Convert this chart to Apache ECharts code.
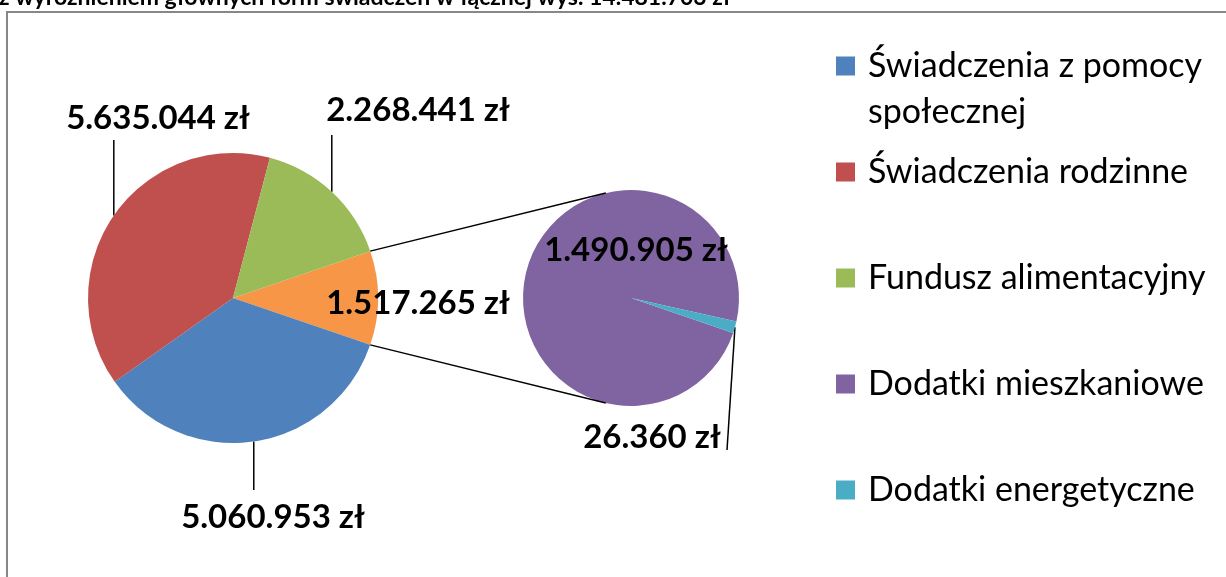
<!DOCTYPE html>
<html><head><meta charset="utf-8">
<script src="https://cdn.jsdelivr.net/npm/echarts@6/dist/echarts.min.js"></script>
<style>html,body{margin:0;padding:0;background:#fff}#c{width:1226px;height:577px}</style>
</head><body><div id="c"></div>
<script>
// ---- data ----
const titleText = 'z wyróżnieniem głównych form świadczeń w łącznej wys. 14.481.703 zł';
const otherName = 'Pozostałe';
const mainCategories = ['Świadczenia z pomocy społecznej', 'Świadczenia rodzinne', 'Fundusz alimentacyjny'];
const mainValues = [5060953, 5635044, 2268441];
const subCategories = ['Dodatki mieszkaniowe', 'Dodatki energetyczne'];
const subValues = [1490905, 26360];
const legendFirst = ['Świadczenia z pomocy społecznej'];
const legendRest = ['Świadczenia rodzinne', 'Fundusz alimentacyjny', 'Dodatki mieszkaniowe', 'Dodatki energetyczne'];

// ---- styles / layout ----
const FONT = 'Lato';
const otherColor = '#F79646';
const mainColors = ['#4F81BD', '#C0504D', '#9BBB59'];
const subColors = ['#8064A2', '#4BACC6'];
const mainCenter = [233, 298], mainR = 145;
const subCenter = [631, 298], subR = 108;
const subAttachDeg = 103.5;
// label positions: [other, blue, red, green]
const mainLabelPos = [[418, 303], [273, 517], [158, 118], [418, 110]];
const mainLineEndY = [null, 490, 140, 135];
const subLabelPos = [[636, 250], [652, 437]];
const subLineEnd = [null, [727, 450]];

const fmt = v => String(v).replace(/\B(?=(\d{3})+(?!\d))/g, '.') + ' zł';
const otherValue = subValues.reduce((a, b) => a + b, 0);
const total = mainValues.reduce((a, b) => a + b, 0) + otherValue;
const halfOtherDeg = otherValue / total * 180;

const mainData = [{ name: otherName, value: otherValue, itemStyle: { color: otherColor }, labelLine: { show: false } }]
  .concat(mainCategories.map((n, i) => ({ name: n, value: mainValues[i], itemStyle: { color: mainColors[i] } })));
const subData = subCategories.map((n, i) => ({
  name: n, value: subValues[i], itemStyle: { color: subColors[i] },
  labelLine: { show: i === 1 }
}));

const rad = d => d * Math.PI / 180;
const p1t = [mainCenter[0] + mainR * Math.cos(rad(halfOtherDeg)), mainCenter[1] - mainR * Math.sin(rad(halfOtherDeg))];
const p1b = [p1t[0], mainCenter[1] + mainR * Math.sin(rad(halfOtherDeg))];
const p2t = [subCenter[0] + subR * Math.cos(rad(subAttachDeg)), subCenter[1] - subR * Math.sin(rad(subAttachDeg))];
const p2b = [p2t[0], subCenter[1] + subR * Math.sin(rad(subAttachDeg))];

const labelStyle = { show: true, position: 'outside', formatter: p => fmt(p.value), fontFamily: FONT, fontWeight: 'bold', fontSize: 33, color: '#000' };
const lineStyle = { show: true, lineStyle: { color: '#000', width: 1.5 }, length: 10, length2: 10 };
const legendText = { fontFamily: FONT, fontSize: 34, lineHeight: 46, color: '#000', padding: [0, 0, 0, 8] };

const chart = echarts.init(document.getElementById('c'), null, { renderer: 'canvas' });
chart.setOption({
  animation: false,
  backgroundColor: '#fff',
  title: { text: titleText, left: -1, top: -14, padding: 0, textStyle: { fontFamily: FONT, fontWeight: 'bold', fontSize: 23, color: '#000' } },
  graphic: [
    { type: 'rect', z: -10, shape: { x: 7, y: 12, width: 1240, height: 600 }, style: { fill: 'none', stroke: '#878787', lineWidth: 2 } },
    { type: 'line', z: 10, shape: { x1: p1t[0], y1: p1t[1], x2: p2t[0], y2: p2t[1] }, style: { stroke: '#000', lineWidth: 1.5 } },
    { type: 'line', z: 10, shape: { x1: p1b[0], y1: p1b[1], x2: p2b[0], y2: p2b[1] }, style: { stroke: '#000', lineWidth: 1.5 } }
  ],
  legend: [
    { data: legendFirst, orient: 'vertical', left: 836, top: -3, padding: 0, itemWidth: 19, itemHeight: 19, icon: 'rect',
      formatter: () => '\nŚwiadczenia z pomocy\nspołecznej',
      textStyle: legendText },
    { data: legendRest, orient: 'vertical', left: 836, top: 149, padding: 0, itemGap: 60, itemWidth: 19, itemHeight: 19, icon: 'rect',
      textStyle: legendText }
  ],
  series: [
    {
      type: 'pie', center: mainCenter, radius: mainR, clockwise: true, startAngle: halfOtherDeg,
      avoidLabelOverlap: false, silent: true, itemStyle: { borderWidth: 0 },
      label: labelStyle, labelLine: lineStyle, data: mainData,
      labelLayout: p => {
        const i = p.dataIndex, pos = mainLabelPos[i];
        const o = { x: pos[0], y: pos[1], align: 'center', verticalAlign: 'middle' };
        if (mainLineEndY[i] != null && p.labelLinePoints) {
          const a = p.labelLinePoints[0];
          o.labelLinePoints = [a, [a[0], mainLineEndY[i]]];
        }
        return o;
      }
    },
    {
      type: 'pie', center: subCenter, radius: subR, clockwise: true, startAngle: -halfOtherDeg,
      avoidLabelOverlap: false, silent: true, itemStyle: { borderWidth: 0 },
      label: labelStyle, labelLine: lineStyle, data: subData,
      labelLayout: p => {
        const i = p.dataIndex, pos = subLabelPos[i];
        const o = { x: pos[0], y: pos[1], align: 'center', verticalAlign: 'middle' };
        if (subLineEnd[i] && p.labelLinePoints) {
          o.labelLinePoints = [p.labelLinePoints[0], subLineEnd[i]];
        }
        return o;
      }
    }
  ]
});
</script></body></html>
